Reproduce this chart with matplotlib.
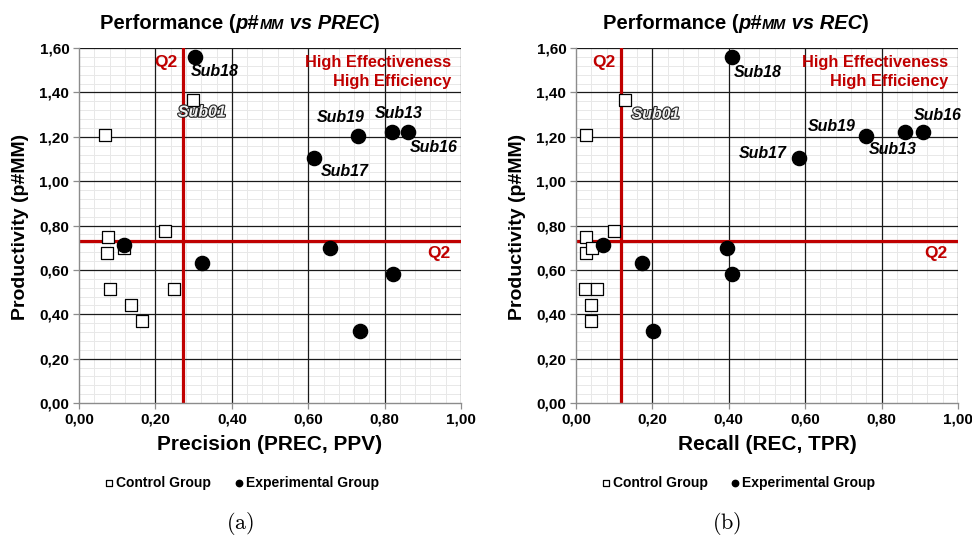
import matplotlib
matplotlib.use("Agg")
import matplotlib.pyplot as plt
import matplotlib.patheffects as pe
from matplotlib.ticker import MultipleLocator, FuncFormatter

plt.rcParams['font.family'] = ['Liberation Sans', 'DejaVu Sans']
plt.rcParams['mathtext.fontset'] = 'cm'

# Control group (white squares)
ctrl_names = ["", "Sub01", "", "", "", "", "", "", "", ""]
ctrl_prod = [1.21, 1.365, 0.747, 0.678, 0.697, 0.777, 0.512, 0.516, 0.443, 0.371]
ctrl_prec = [0.069, 0.298, 0.077, 0.073, 0.119, 0.225, 0.081, 0.249, 0.135, 0.165]
ctrl_rec = [0.025, 0.127, 0.025, 0.025, 0.041, 0.099, 0.024, 0.055, 0.039, 0.039]

# Experimental group (black circles)
exp_names = ["Sub18", "Sub19", "Sub13", "Sub16", "Sub17", "", "", "", "", ""]
exp_prod = [1.560, 1.205, 1.222, 1.222, 1.104, 0.714, 0.630, 0.699, 0.580, 0.324]
exp_prec = [0.304, 0.731, 0.819, 0.860, 0.615, 0.119, 0.322, 0.657, 0.822, 0.736]
exp_rec = [0.408, 0.760, 0.862, 0.908, 0.585, 0.071, 0.173, 0.394, 0.408, 0.202]

# Q2 thresholds
q2_prod = 0.73
q2_prec = 0.272
q2_rec = 0.119

RED = '#c00000'

# label offsets in pixels (layout only)
offsets_a = {"Sub01": (9, -12), "Sub18": (20, -15), "Sub19": (-18, 18),
             "Sub13": (7, 18), "Sub16": (26, -16), "Sub17": (31, -13)}
offsets_b = {"Sub01": (31, -14), "Sub18": (26, -16), "Sub19": (-35, 9),
             "Sub13": (-13, -18), "Sub16": (15, 16), "Sub17": (-37, 5)}


def comma_fmt(v, pos):
    return f"{v:.2f}".replace(".", ",")


def rich_text(fig, xc, y, pieces):
    # place text pieces side by side, centred on xc (figure fraction)
    renderer = fig.canvas.get_renderer()
    texts = [fig.text(0, y, s, va='baseline', ha='left', **kw) for s, kw in pieces]
    widths = [t.get_window_extent(renderer).width for t in texts]
    W = fig.get_figwidth() * fig.dpi
    x = xc * W - sum(widths) / 2
    for t, w in zip(texts, widths):
        t.set_x(x / W)
        x += w


def draw_panel(ax, ctrl_x, exp_x, q2_x, xlabel, offsets, q2_xpos):
    ax.set_xlim(0, 1)
    ax.set_ylim(0, 1.6)
    ax.xaxis.set_major_locator(MultipleLocator(0.2))
    ax.yaxis.set_major_locator(MultipleLocator(0.2))
    ax.xaxis.set_minor_locator(MultipleLocator(0.04))
    ax.yaxis.set_minor_locator(MultipleLocator(0.04))
    ax.xaxis.set_major_formatter(FuncFormatter(comma_fmt))
    ax.yaxis.set_major_formatter(FuncFormatter(comma_fmt))
    ax.set_axisbelow(True)
    ax.grid(which='minor', color='#e8e8e8', lw=0.7)
    # major grid drawn on top of the minor one
    for v in ax.get_xticks():
        if 0 < v <= 1.0001:
            ax.axvline(v, color='#1a1a1a', lw=0.9, zorder=0.8)
    for v in ax.get_yticks():
        if 0 < v <= 1.6001:
            ax.axhline(v, color='#1a1a1a', lw=0.9, zorder=0.8)
    ax.tick_params(which='major', length=4, color='#8c8c8c', width=0.9, pad=3)
    ax.tick_params(which='minor', length=0)
    for lab in ax.get_xticklabels() + ax.get_yticklabels():
        lab.set_fontweight('bold')
        lab.set_fontsize(11)
    for s in ['top', 'right']:
        ax.spines[s].set_visible(False)
    for s in ['left', 'bottom']:
        ax.spines[s].set_color('#8c8c8c')
        ax.spines[s].set_linewidth(1.0)

    ax.axvline(q2_x, color=RED, lw=2.3, zorder=2)
    ax.axhline(q2_prod, color=RED, lw=2.3, zorder=2)

    ax.scatter(ctrl_x, ctrl_prod, marker='s', s=84, facecolor='white',
               edgecolor='black', linewidth=0.9, zorder=3, label='Control Group')
    ax.scatter(exp_x, exp_prod, marker='o', s=104, facecolor='black',
               edgecolor='black', zorder=4, label='Experimental Group')

    for name, x, y in zip(exp_names, exp_x, exp_prod):
        if name:
            ax.annotate(name, (x, y), xytext=offsets[name], textcoords='offset pixels',
                        ha='center', va='center', fontsize=11.5, fontweight='bold',
                        style='italic', color='black', zorder=5)
    for name, x, y in zip(ctrl_names, ctrl_x, ctrl_prod):
        if name:
            ax.annotate(name, (x, y), xytext=offsets[name], textcoords='offset pixels',
                        ha='center', va='center', fontsize=11.5, fontweight='bold',
                        style='italic', color='#f2f2f2', zorder=5,
                        path_effects=[pe.withStroke(linewidth=1.6, foreground='#222222')])

    ax.text(0.974, 0.958, "High Effectiveness", transform=ax.transAxes, ha='right',
            va='center', color=RED, fontsize=11.8, fontweight='bold')
    ax.text(0.974, 0.905, "High Efficiency", transform=ax.transAxes, ha='right',
            va='center', color=RED, fontsize=11.8, fontweight='bold')
    ax.text(q2_xpos, 0.958, "Q2", transform=ax.transAxes, ha='center', va='center',
            color=RED, fontsize=12.5, fontweight='bold')
    ax.text(0.941, 0.422, "Q2", transform=ax.transAxes, ha='center', va='center',
            color=RED, fontsize=12.5, fontweight='bold')

    ax.set_xlabel(xlabel, fontsize=15, fontweight='bold', labelpad=6)


fig = plt.figure(figsize=(9.72, 5.43), dpi=100)
ax1 = fig.add_axes([0.0813, 0.2578, 0.393, 0.6538])
ax2 = fig.add_axes([0.5926, 0.2578, 0.393, 0.6538])

draw_panel(ax1, ctrl_prec, exp_prec, q2_prec, "Precision (PREC, PPV)", offsets_a, 0.228)
draw_panel(ax2, ctrl_rec, exp_rec, q2_rec, "Recall (REC, TPR)", offsets_b, 0.073)

for xc, metric in [(0.247, "PREC"), (0.757, "REC")]:
    rich_text(fig, xc, 0.946, [
        ("Performance (", dict(fontsize=14.5, fontweight='bold')),
        ("p#", dict(fontsize=14.5, fontweight='bold', style='italic')),
        ("MM", dict(fontsize=10.5, fontweight='bold', style='italic')),
        (" vs " + metric, dict(fontsize=14.5, fontweight='bold', style='italic')),
        (")", dict(fontsize=14.5, fontweight='bold')),
    ])

for xc in [0.0206, 0.532]:
    fig.text(xc, 0.582, "Productivity (p#MM)", rotation=90, ha='center', va='center',
             fontsize=14, fontweight='bold')

for ax, xc in [(ax1, 0.248), (ax2, 0.759)]:
    h, l = ax.get_legend_handles_labels()
    leg = ax.legend(h, l, loc='center', bbox_to_anchor=(xc, 0.1105),
                    bbox_transform=fig.transFigure, ncol=2, frameon=False,
                    markerscale=0.45, handletextpad=0.1, columnspacing=1.6,
                    handlelength=0.8, prop=dict(weight='bold', size=10))

fig.text(0.247, 0.036, r"$\mathrm{(a)}$", ha='center', va='center', fontsize=16)
fig.text(0.748, 0.036, r"$\mathrm{(b)}$", ha='center', va='center', fontsize=16)

fig.savefig("out.png", dpi=100)
